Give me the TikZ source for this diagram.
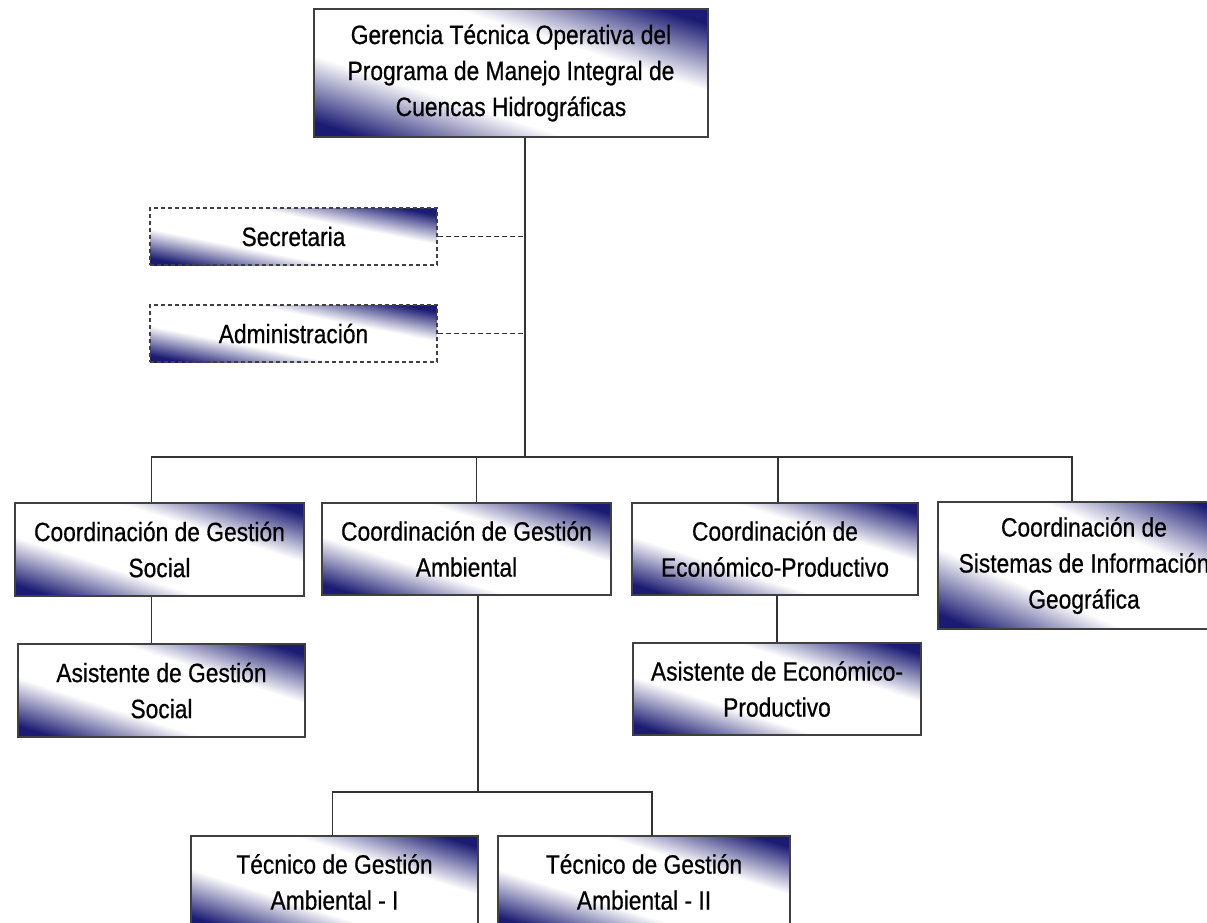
\documentclass[tikz,border=0pt]{standalone}
\usepackage{fontspec}
\setmainfont{Liberation Sans}[FakeStretch=0.86,FakeBold=0.6]
\usetikzlibrary{positioning}
\definecolor{rule}{HTML}{333333}
\pgfdeclarefunctionalshading{boxshade}{\pgfpoint{0bp}{0bp}}{\pgfpoint{100bp}{100bp}}{}{
 add 100 sub abs 50 div 0.36 sub 0.52 div
 dup 0 lt {pop 0} if dup 1 gt {pop 1} if
 dup 0.894 mul 1 exch sub
 exch dup 0.894 mul 1 exch sub
 exch 0.549 mul 1 exch sub}

\begin{document}
\begin{tikzpicture}[x=1pt,y=-1pt,
 box/.style={draw=black!75,line width=1.6pt,shading=boxshade,
 align=center,inner sep=0pt,font=\fontsize{26.5}{36}\selectfont},
 staff/.style={box,dashed,dash pattern=on 4pt off 3pt},
 link/.style={line width=1.5pt,draw=rule}]
\useasboundingbox (0,0) rectangle (1207,923);
\node[box,minimum width=394pt,minimum height=128pt] (gerencia) at (511,73) {Gerencia Técnica Operativa del\\Programa de Manejo Integral de\\Cuencas Hidrográficas};
\node[staff,minimum width=287pt,minimum height=57pt] (secretaria) at (293.5,236.5) {Secretaria};
\node[staff,minimum width=287pt,minimum height=57pt] (admin) at (293.5,333.5) {Administración};
\node[box,minimum width=289pt,minimum height=93pt] (social) at (159.5,549.5) {Coordinación de Gestión\\Social};
\node[box,minimum width=289pt,minimum height=92pt] (ambiental) at (466.5,549) {Coordinación de Gestión\\Ambiental};
\node[box,minimum width=286pt,minimum height=92pt] (economico) at (775,549) {Coordinación de\\Económico-Productivo};
\node[box,minimum width=292pt,minimum height=127pt] (sig) at (1084,565.5) {Coordinación de\\Sistemas de Información\\Geográfica};
\node[box,minimum width=287pt,minimum height=93pt] (asisSocial) at (161.5,690.5) {Asistente de Gestión\\Social};
\node[box,minimum width=288pt,minimum height=92pt] (asisEcon) at (777,689) {Asistente de Económico-\\Productivo};
\node[box,minimum width=287pt,minimum height=92pt] (tecI) at (334.5,882) {Técnico de Gestión\\Ambiental - I};
\node[box,minimum width=292pt,minimum height=92pt] (tecII) at (644,882) {Técnico de Gestión\\Ambiental - II};
\coordinate (bus) at (525,457);
\coordinate (split) at (478,792);
\coordinate (dSocial) at ([xshift=-8]social.north);
\coordinate (dAmb) at ([xshift=10]ambiental.north);
\coordinate (dEcon) at ([xshift=3]economico.north);
\coordinate (dSig) at ([xshift=-12]sig.north);
\coordinate (uSocial) at ([xshift=-8]social.south);
\draw[link] (gerencia.south -| bus) -- (bus);
\draw[link,dashed,dash pattern=on 5pt off 3pt] (secretaria.east) -- (secretaria.east -| bus);
\draw[link,dashed,dash pattern=on 5pt off 3pt] (admin.east) -- (admin.east -| bus);
\draw[link] (dSocial) |- (bus) -| (dSig);
\draw[link] (dAmb) -- (dAmb |- bus);
\draw[link] (dEcon) -- (dEcon |- bus);
\draw[link] (uSocial) -- (uSocial |- asisSocial.north);
\draw[link] (asisEcon.north) -- (asisEcon.north |- economico.south);
\draw[link] (ambiental.south -| split) -- (split);
\draw[link] ([xshift=-2]tecI.north) |- (split) -| ([xshift=8]tecII.north);
\end{tikzpicture}
\end{document}
